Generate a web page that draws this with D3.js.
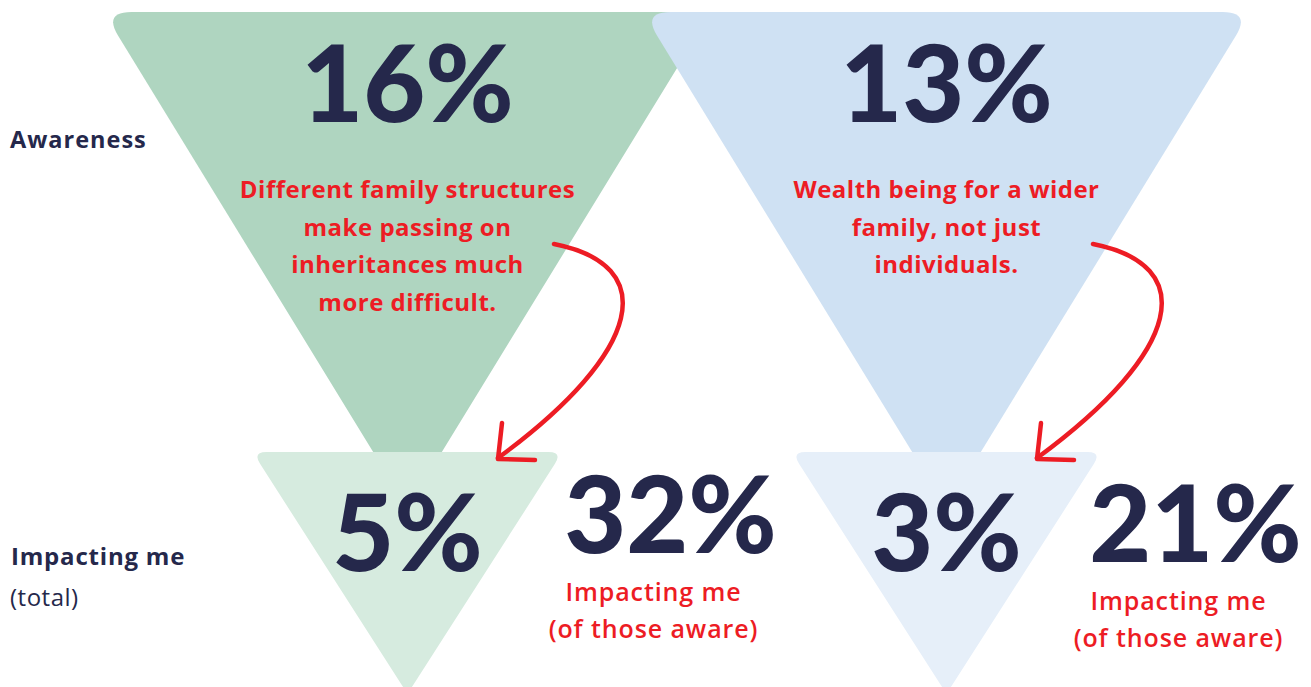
<!DOCTYPE html>
<html>
<head>
<meta charset="utf-8">
<script src="https://cdn.jsdelivr.net/npm/d3@7"></script>
<style>
  body { margin: 0; background: #fff; }
  svg { display: block; }
</style>
</head>
<body>
<svg id="funnel"></svg>
<script>
// values
const groups = ['structures', 'wider'];
const descriptions = [
    ['Different family structures', 'make passing on', 'inheritances much', 'more difficult.'],
    ['Wealth being for a wider', 'family, not just', 'individuals.']
];
const awareness = [16, 13];
const impactTotal = [5, 3];
const impactAware = [32, 21];
const stages = ['Awareness', 'Impacting me'];
const stageNotes = ['', '(total)'];
const awareNote = ['Impacting me', '(of those aware)'];

const width = 1311;
const height = 687;
const navy = '#25284b';
const red = '#ed1c24';
const bigFill = ['#afd5c0', '#cfe1f3'];
const smallFill = ['#d6ebdf', '#e6eff9'];
const numFont = 'Lato, sans-serif';
const textFont = '"Open Sans", sans-serif';

const x = d3.scaleBand().domain(groups).range([138, 1216]);
const y = d3.scalePoint().domain(stages).range([12, 452]);
const cx = (g) => x(g) + x.bandwidth() / 2;

const svg = d3.select('#funnel')
    .attr('width', width)
    .attr('height', height);

const toward = (a, b, d) => {
    const dx = b[0] - a[0], dy = b[1] - a[1], l = Math.hypot(dx, dy);
    return [a[0] + dx / l * d, a[1] + dy / l * d];
};

// triangle with soft corners
function roundedTriangle(pts, radii) {
    const p = d3.path();
    pts.forEach((cur, i) => {
        const prev = pts[(i + pts.length - 1) % pts.length];
        const next = pts[(i + 1) % pts.length];
        const a = toward(cur, prev, radii[i]);
        const b = toward(cur, next, radii[i]);
        if (i === 0) p.moveTo(a[0], a[1]); else p.lineTo(a[0], a[1]);
        p.quadraticCurveTo(cur[0], cur[1], b[0], b[1]);
    });
    p.closePath();
    return p.toString();
}

const bigTop = y('Awareness');
const smallTop = y('Impacting me');

svg.append('g')
    .attr('class', 'big')
    .selectAll('path')
    .data(groups)
    .enter()
    .append('path')
    .attr('d', (g) => roundedTriangle([[cx(g) - 304, bigTop], [cx(g) + 304, bigTop], [cx(g), 508]], [28, 28, 10]))
    .attr('fill', (g, i) => bigFill[i]);

svg.append('g')
    .attr('class', 'small')
    .selectAll('path')
    .data(groups)
    .enter()
    .append('path')
    .attr('d', (g) => roundedTriangle([[cx(g) - 155, smallTop], [cx(g) + 155, smallTop], [cx(g), smallTop + 242]], [14, 14, 10]))
    .attr('fill', (g, i) => smallFill[i]);

// stage labels on the left
svg.append('text')
    .attr('x', 10)
    .attr('y', bigTop + 136)
    .style('font', `700 23.5px ${textFont}`)
    .style('letter-spacing', '1px')
    .style('fill', navy)
    .text(stages[0]);

svg.append('text')
    .attr('x', 11)
    .attr('y', smallTop + 113)
    .style('font', `700 24px ${textFont}`)
    .style('letter-spacing', '0.8px')
    .style('fill', navy)
    .text(stages[1]);

svg.append('text')
    .attr('x', 10)
    .attr('y', smallTop + 154)
    .style('font', `400 24px ${textFont}`)
    .style('letter-spacing', '0.5px')
    .style('fill', navy)
    .text(stageNotes[1]);

const cols = svg.append('g')
    .selectAll('.col')
    .data(groups)
    .enter()
    .append('g')
    .attr('class', 'col')
    .attr('transform', (g) => `translate(${cx(g)},0)`);

// big numbers
const bigNum = (sel) => sel
    .attr('text-anchor', 'middle')
    .style('font-family', numFont)
    .style('font-weight', 900)
    .style('font-size', '107px')
    .style('letter-spacing', '0px')
    .style('fill', navy);

cols.append('text')
    .attr('y', bigTop + 110)
    .call(bigNum)
    .text((g, i) => `${awareness[i]}%`);

cols.append('text')
    .attr('y', smallTop + 119)
    .call(bigNum)
    .text((g, i) => `${impactTotal[i]}%`);

cols.append('text')
    .attr('x', (g, i) => [263, 249][i])
    .attr('y', (g, i) => smallTop + [101, 110][i])
    .call(bigNum)
    .text((g, i) => `${impactAware[i]}%`);

// descriptions
cols.append('text')
    .attr('text-anchor', 'middle')
    .style('font', `700 24px ${textFont}`)
    .style('letter-spacing', '0.5px')
    .style('fill', red)
    .selectAll('tspan')
    .data((g, i) => descriptions[i])
    .enter()
    .append('tspan')
    .attr('x', 0)
    .attr('y', (d, j) => 198 + j * 37.5)
    .text((d) => d);

cols.append('text')
    .attr('text-anchor', 'middle')
    .style('font', `600 25px ${textFont}`)
    .style('letter-spacing', '0.9px')
    .style('fill', red)
    .selectAll('tspan')
    .data((g, i) => awareNote.map((t) => ({ t, i })))
    .enter()
    .append('tspan')
    .attr('x', (d) => [246, 232][d.i])
    .attr('y', (d, j) => smallTop + [149, 158][d.i] + j * 37)
    .text((d) => d.t);

// curved arrows from description to the lower funnel
const arrow = d3.path();
arrow.moveTo(146.5, 244);
arrow.bezierCurveTo(252.5, 265, 237.5, 350, 90.5, 458);

cols.append('path')
    .attr('d', arrow.toString())
    .attr('fill', 'none')
    .attr('stroke', red)
    .attr('stroke-width', 4.5)
    .attr('stroke-linecap', 'round');

cols.append('path')
    .attr('d', d3.line()([[94.5, 423], [90.5, 459], [127.5, 460]]))
    .attr('fill', 'none')
    .attr('stroke', red)
    .attr('stroke-width', 4.5)
    .attr('stroke-linecap', 'round')
    .attr('stroke-linejoin', 'round');
</script>
</body>
</html>
